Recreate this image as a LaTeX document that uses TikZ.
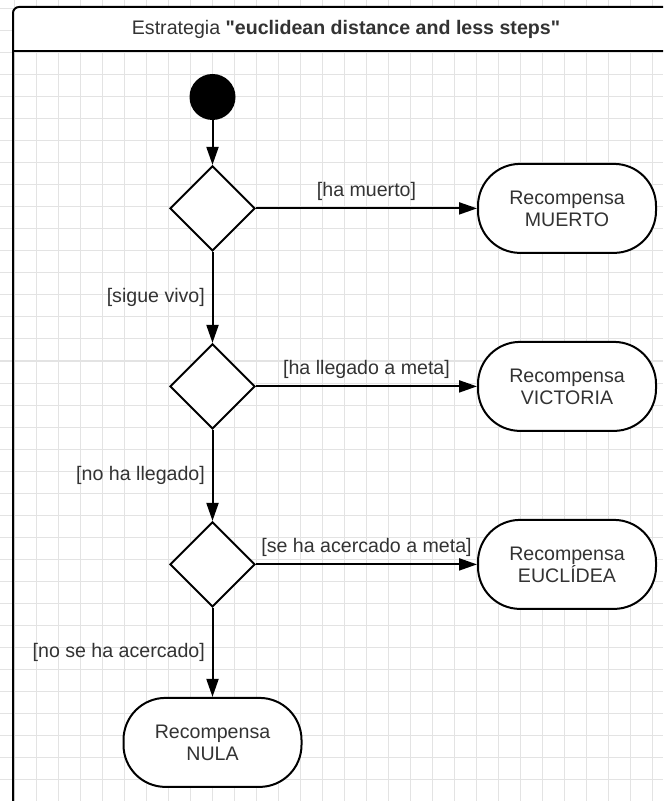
\documentclass[tikz,border=0pt]{standalone}
\usepackage{fontspec}
\setmainfont{Liberation Sans}
\font\titlebold="Liberation Sans/B" at 9.8pt
\usetikzlibrary{arrows.meta,positioning,shapes.geometric}

\begin{document}
\begin{tikzpicture}[
  x=0.5pt, y=-0.5pt,
  node distance=45.5pt,
  font=\fontsize{9.8}{11}\selectfont,
  gridline/.style={black!11, line width=0.5pt},
  frame/.style={draw, line width=1pt},
  start/.style={circle, fill=black, minimum size=23pt, inner sep=0pt},
  decision/.style={diamond, draw, line width=1pt, fill=white, minimum width=42.5pt, minimum height=42.5pt, inner sep=0pt},
  reward/.style={rectangle, rounded corners=21pt, draw, line width=1pt, fill=white, minimum width=89pt, minimum height=44.5pt, align=center, text=black!80},
  guard/.style={text=black!80},
  flow/.style={->, line width=1pt, >={Triangle[length=9pt,width=6pt]}}
]
\useasboundingbox (0,0) rectangle (663,801);
\clip (0,0) rectangle (663,801);

\foreach \gx in {0,...,29} \draw[gridline] ({14.5+22*\gx},0) -- ({14.5+22*\gx},801);
\foreach \gy in {0,...,36} \draw[gridline] (0,{9+22*\gy}) -- (663,{9+22*\gy});

\fill[white] (13,7) rectangle (700,51);
\draw[frame, rounded corners=3pt] (700,7) -- (13,7) -- (13,840);
\draw[frame] (13,51) -- (700,51);
\node[guard] (title) at (346,29) {Estrategia {\titlebold"euclidean distance and less steps"}};

\node[start] (init) at (212.5,97) {};

\node[decision, below=22.25pt of init] (dead) {};
\draw[flow] (init) -- (dead);

\node[reward, right=110.5pt of dead] (muerto) {Recompensa\\MUERTO};
\draw[flow] (dead) -- node[guard, midway, above] {[ha muerto]} (muerto);

\node[decision, below=of dead] (goal) {};
\draw[flow] (dead) -- node[guard, midway, left] {[sigue vivo]} (goal);

\node[reward, right=110.5pt of goal] (victoria) {Recompensa\\VICTORIA};
\draw[flow] (goal) -- node[guard, midway, above] {[ha llegado a meta]} (victoria);

\node[decision, below=of goal] (closer) {};
\draw[flow] (goal) -- node[guard, midway, left] {[no ha llegado]} (closer);

\node[reward, right=110.5pt of closer] (euclidea) {Recompensa\\EUCLÍDEA};
\draw[flow] (closer) -- node[guard, midway, above] {[se ha acercado a meta]} (euclidea);

\node[reward, below=44.5pt of closer] (nula) {Recompensa\\NULA};
\draw[flow] (closer) -- node[guard, midway, left] {[no se ha acercado]} (nula);

\end{tikzpicture}
\end{document}
